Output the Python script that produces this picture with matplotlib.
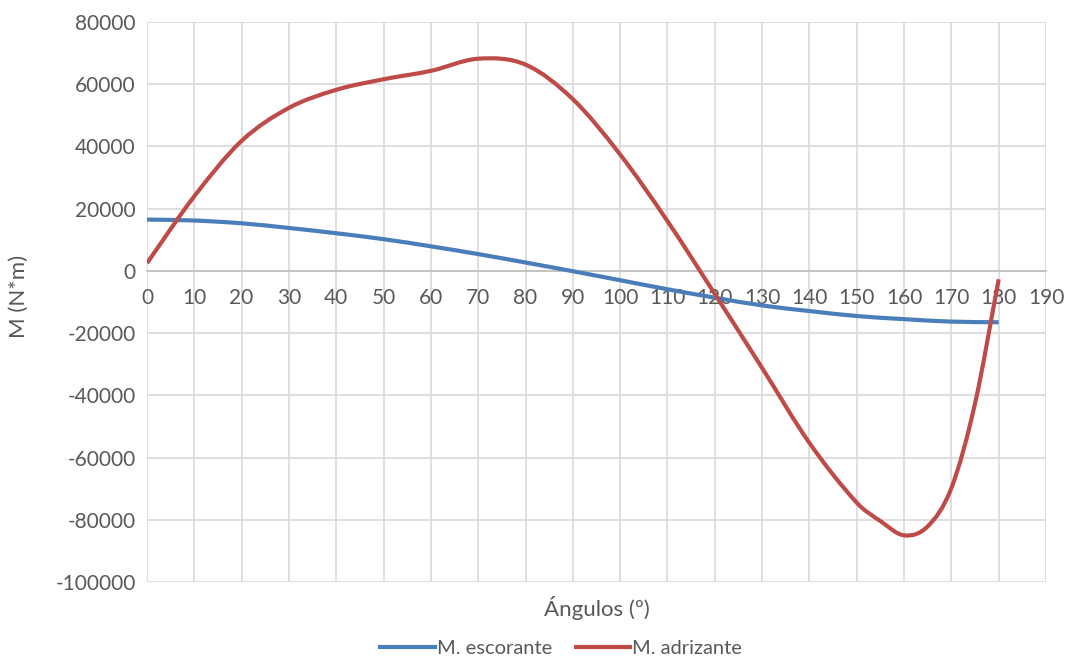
import numpy as np
from matplotlib import pyplot as plt
from matplotlib.path import Path
from matplotlib.patches import PathPatch
from matplotlib.lines import Line2D

plt.rcParams['axes.unicode_minus'] = False

angulos = [0, 10, 20, 30, 40, 50, 60, 70, 80, 90, 100, 110, 120, 130, 140, 150, 160, 170, 180]
m_escorante = [16500, 16200, 15300, 13800, 12100, 10200, 7900, 5400, 2700, -100, -3000,
               -5900, -8600, -11100, -12900, -14500, -15500, -16300, -16500]
angulos_adr = [0, 10, 20, 30, 40, 50, 60, 70, 80, 90, 100, 110, 120, 130, 140, 150,
               155, 160, 165, 170, 175, 180]
m_adrizante = [2500, 24000, 41800, 52400, 58200, 61600, 64300, 68200, 66300, 55200, 37400,
               16000, -7400, -31200, -55300, -74500, -80400, -85000, -82100, -69800,
               -42600, -2700]

AZUL = '#4a7ebb'
VERMELHO = '#be4b48'
CINZA = '#d9d9d9'
TEXTO = '#595959'
FONTE = 'Lato'


def caminho_suave(x, y):
    # curva suave (hermite cubica em bezier) passando pelos pontos
    x = np.asarray(x, float)
    y = np.asarray(y, float)
    n = len(x)
    m = np.zeros(n)
    m[1:-1] = (y[2:] - y[:-2]) / (x[2:] - x[:-2])
    m[0] = (y[1] - y[0]) / (x[1] - x[0])
    m[-1] = (y[-1] - y[-2]) / (x[-1] - x[-2])
    verts = [(x[0], y[0])]
    codes = [Path.MOVETO]
    for i in range(n - 1):
        h = (x[i + 1] - x[i]) / 3
        verts += [(x[i] + h, y[i] + m[i] * h), (x[i + 1] - h, y[i + 1] - m[i + 1] * h),
                  (x[i + 1], y[i + 1])]
        codes += [Path.CURVE4] * 3
    return Path(verts, codes)


fig = plt.figure(figsize=(10.69, 6.59), dpi=100)
ax = fig.add_axes([0.1375, 0.1168, 0.841, 0.8498])

for xs, serie, cor in [(angulos, m_escorante, AZUL), (angulos_adr, m_adrizante, VERMELHO)]:
    ax.add_patch(PathPatch(caminho_suave(xs, serie), facecolor='none',
                           edgecolor=cor, lw=3, capstyle='butt', zorder=3))

ax.set_xlim(0, 190)
ax.set_ylim(-100000, 80000)
ax.set_xticks(range(0, 191, 10))
ax.set_yticks(range(-100000, 80001, 20000))
ax.grid(True, color=CINZA, lw=1.2)
ax.set_axisbelow(True)

for lado in ['top', 'right', 'left']:
    ax.spines[lado].set_visible(False)
ax.spines['bottom'].set_position(('data', 0))
ax.spines['bottom'].set_color('#bfbfbf')
ax.spines['bottom'].set_linewidth(1.2)
ax.spines['bottom'].set_zorder(1)
ax.tick_params(axis='both', length=0, colors=TEXTO, labelsize=15)
ax.tick_params(axis='x', pad=12)
ax.tick_params(axis='y', pad=8)
for lbl in ax.get_xticklabels() + ax.get_yticklabels():
    lbl.set_fontfamily(FONTE)

ax.text(95, -104500, 'Ángulos (º)', ha='center', va='top', fontsize=16,
        color=TEXTO, family=FONTE)
fig.text(0.018, 0.55, 'M (N*m)', rotation=90, ha='center', va='center', fontsize=16,
         color=TEXTO, family=FONTE)

handles = [Line2D([], [], color=AZUL, lw=3), Line2D([], [], color=VERMELHO, lw=3)]
leg = fig.legend(handles, ['M. escorante', 'M. adrizante'], loc='lower center',
                 bbox_to_anchor=(0.525, -0.025), ncol=2, frameon=False, handlelength=2.7,
                 handletextpad=0.1, columnspacing=1.2, prop={'family': FONTE, 'size': 14.5})
for t in leg.get_texts():
    t.set_color(TEXTO)

fig.savefig('out.png', dpi=100)
